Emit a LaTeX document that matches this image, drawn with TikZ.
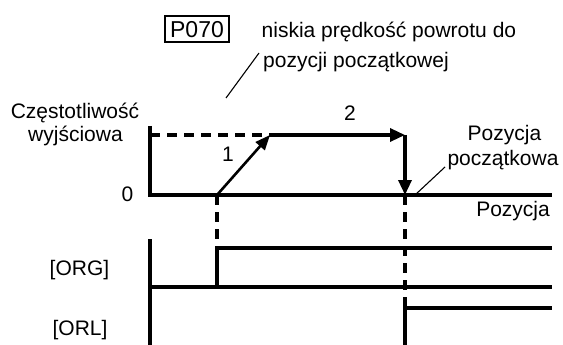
\documentclass[tikz,border=0pt]{standalone}
\usepackage{fontspec}
\setmainfont{Liberation Sans}
\usetikzlibrary{arrows.meta, positioning, calc}

\begin{document}
\begin{tikzpicture}[
        x=1pt, y=-1pt,
        lbl/.style={font=\fontsize{21}{24}\selectfont, inner sep=0pt, anchor=base},
        axisline/.style={line width=3.3pt},
        sigline/.style={line width=3.3pt},
        guide/.style={line width=3.3pt, dash pattern=on 10pt off 7pt},
        leader/.style={line width=1.1pt},
        arrow/.style={line width=3.3pt, -{Triangle[length=15pt, width=13pt]}},
        ramp/.style={line width=2.6pt, -{Triangle[length=15pt, width=12pt]}}
    ]
        \useasboundingbox (0,0) rectangle (563,345);
        % axes of the speed plot
        \coordinate (ytop) at (150,126);
        \coordinate (orig) at (150,195);
        \coordinate (xend) at (552,195);
        \coordinate (fmax) at (150,135);
        \coordinate (rampA) at (217,195);
        \coordinate (rampB) at (270,135);
        \coordinate (topB) at (405,135);
        \coordinate (home) at (405,195);
        \draw[axisline] (ytop) -- (orig) -- (xend);
        \draw[guide] (fmax) -- (rampB);
        \draw[ramp] (rampA) -- (rampB);
        \draw[arrow] (rampB) -- (topB);
        \draw[arrow] (topB) -- (home);

        % signals
        \coordinate (sigtop) at (150,239);
        \coordinate (sigbot) at (150,345);
        \coordinate (orgLow) at (150,287);
        \coordinate (orgLowEnd) at (552,287);
        \coordinate (orgUp) at (217,287);
        \coordinate (orgHigh) at (217,248);
        \coordinate (orgHighEnd) at (552,248);
        \coordinate (orlUp) at (405,345);
        \coordinate (orlHigh) at (405,308);
        \coordinate (orlHighEnd) at (552,308);
        \draw[axisline] (sigtop) -- (sigbot);
        \draw[sigline] (orgLow) -- (orgLowEnd);
        \draw[sigline] (orgUp) -- (orgHigh) -- (orgHighEnd);
        \draw[sigline] (orlUp) -- (orlHigh) -- (orlHighEnd);
        \draw[guide] (rampA) -- (orgHigh);
        \draw[guide] (home) -- (orlHigh);

        % labels
        \node[lbl] (freq1) at (75,119) {Częstotliwość};
        \node[lbl] (freq2) at (75.5,142) {wyjściowa};
        \node[lbl] (zero) at (127.5,201.5) {0};
        \node[lbl] (one) at (228,161.5) {1};
        \node[lbl] (two) at (350,121) {2};
        \node[lbl, anchor=base east] (posx) at (550,216.5) {Pozycja};
        \node[lbl] (home1) at (504.5,140) {Pozycja};
        \node[lbl] (home2) at (503,165) {początkowa};
        \node[lbl] (org) at (79.5,275) {[ORG]};
        \node[lbl] (orl) at (80,335) {[ORL]};
        \node[draw, line width=1.4pt, minimum width=64pt, minimum height=26pt,
              inner sep=0pt] (par) at (197,29) {};
        \node[lbl, font=\fontsize{23}{26}\selectfont] (partxt) at ($(par.center)+(0,8.3)$) {P070};
        \node[lbl, anchor=base west] (desc1) at (261.5,38) {niskia prędkość powrotu do};
        \node[lbl, anchor=base west] (desc2) at (263,68) {pozycji początkowej};
        \coordinate (leadA) at (259,53);
        \coordinate (leadB) at (226,98);
        \coordinate (homeA) at (415,195);
        \coordinate (homeB) at (445,167);
        \draw[leader] (leadA) -- (leadB);
        \draw[leader] (homeA) -- (homeB);
    \end{tikzpicture}
\end{document}
